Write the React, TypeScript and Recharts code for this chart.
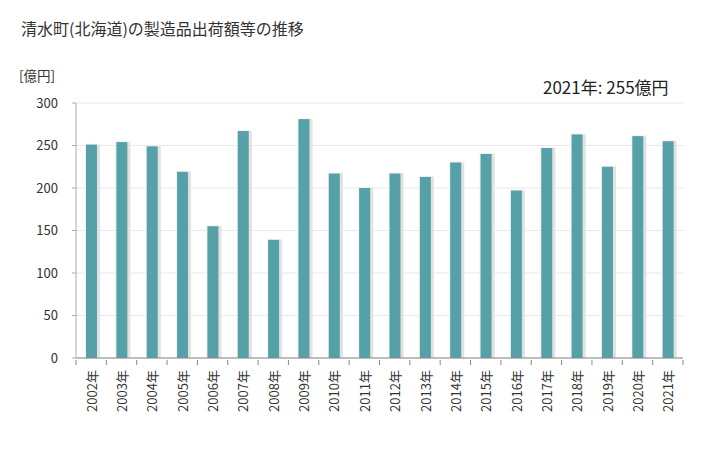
import { BarChart, Bar, XAxis, YAxis, CartesianGrid } from "recharts";

const years = [
  "2002年", "2003年", "2004年", "2005年", "2006年", "2007年", "2008年",
  "2009年", "2010年", "2011年", "2012年", "2013年", "2014年", "2015年",
  "2016年", "2017年", "2018年", "2019年", "2020年", "2021年",
];
const shipments = [
  251, 254, 249, 219, 155, 267, 139, 281, 217, 200,
  217, 213, 230, 240, 197, 247, 263, 225, 261, 255,
];
const yTicks = [0, 50, 100, 150, 200, 250, 300];

const data = years.map((year, i) => ({ year, value: shipments[i] }));

const FONT = '"Noto Sans CJK JP", "Noto Sans", sans-serif';
const BAR_COLOR = "#56a0a8";

function ShadowBar(props: any) {
  const { x, y, width, height } = props;
  if (height <= 0) return null;
  return (
    <g>
      <rect x={x - 1} y={y - 1} width={width + 4} height={height + 1} fill="#f2f2f2" />
      <rect x={x + 1} y={y} width={width + 2} height={height} fill="#e2e2e2" />
      <rect x={x} y={y} width={width} height={height} fill={BAR_COLOR} />
    </g>
  );
}

function YearTick(props: any) {
  const { x, y, payload, index } = props;
  const band = 607 / years.length;
  const left = x - band / 2;
  const right = x + band / 2;
  return (
    <g>
      <line x1={left} y1={y} x2={left} y2={y + 5} stroke="#888" />
      {index === years.length - 1 && (
        <line x1={right} y1={y} x2={right} y2={y + 5} stroke="#888" />
      )}
      <text
        x={x}
        y={y + 10}
        transform={`rotate(-90, ${x}, ${y + 10})`}
        textAnchor="end"
        dominantBaseline="central"
        fontSize={13}
        fontFamily={FONT}
        fill="#333"
      >
        {payload.value}
      </text>
    </g>
  );
}

export default function App() {
  return (
    <div style={{ position: "absolute", left: 0, top: 0, width: 728, height: 450, background: "#fff", fontFamily: FONT }}>
      <div style={{ position: "absolute", left: 21, top: 16, fontSize: 16, color: "#333" }}>
        清水町(北海道)の製造品出荷額等の推移
      </div>
      <div style={{ position: "absolute", left: 19, top: 65, fontSize: 13.5, color: "#333" }}>
        [億円]
      </div>
      <div style={{ position: "absolute", left: 543, top: 74, fontSize: 17, color: "#222" }}>
        2021年: 255億円
      </div>
      <BarChart
        width={728}
        height={450}
        data={data}
        margin={{ top: 103, right: 45, bottom: 0, left: 0 }}
      >
        <CartesianGrid vertical={false} stroke="#e8e8e8" />
        <XAxis
          dataKey="year"
          tick={<YearTick />}
          tickLine={false}
          tickSize={0}
          axisLine={{ stroke: "#888" }}
          interval={0}
          height={92}
        />
        <YAxis
          width={76}
          domain={[0, 300]}
          ticks={yTicks}
          tickSize={4}
          tickMargin={14}
          tick={{ fill: "#333", fontSize: 13, fontFamily: FONT }}
          tickLine={{ stroke: "#aaa" }}
          axisLine={{ stroke: "#aaa" }}
        />
        <Bar dataKey="value" barSize={11} shape={<ShadowBar />} isAnimationActive={false} />
      </BarChart>
    </div>
  );
}
